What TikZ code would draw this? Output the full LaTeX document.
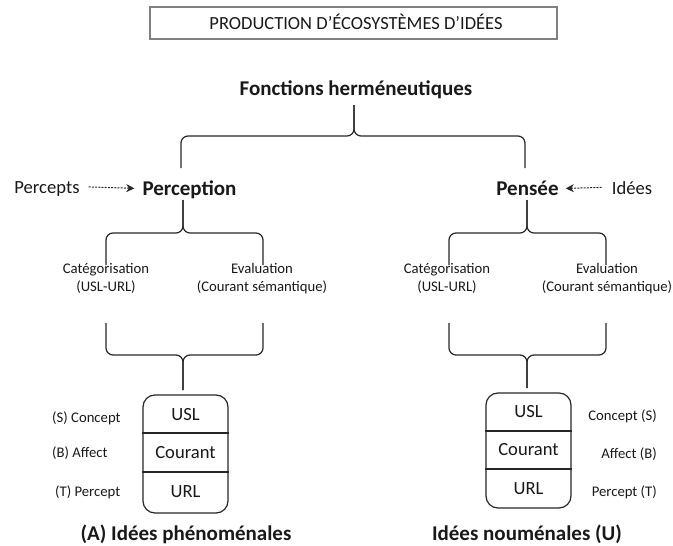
\documentclass[tikz,border=0pt]{standalone}
\usepackage{fontspec}
\setmainfont{Carlito}
\usetikzlibrary{arrows.meta,calc}

% a curly brace: tip (#1,#2), bar at height #3, arms at #4 and #5 ending at #6
\newcommand\curlybrace[6]{%
  \draw[bracestyle] (#4,#6) -- (#4,#3) -- (#1,#3) -- (#1,#2);
  \draw[bracestyle] (#5,#6) -- (#5,#3) -- (#1,#3) -- (#1,#2);
}

\tikzset{
  bracestyle/.style={line width=1.2pt, rounded corners=7pt, black!85},
  txt/.style={inner sep=0pt, anchor=base, text=black!90},
  small/.style={txt, font=\fontsize{14.7}{18}\selectfont},
  medium/.style={txt, font=\fontsize{18.6}{22}\selectfont},
  heading/.style={txt, font=\fontsize{21}{25}\selectfont\bfseries},
  titlebox/.style={draw=black!50, line width=1.8pt},
  cellbox/.style={draw=black!85, line width=1.2pt, rounded corners=12pt,
    minimum width=85pt, inner sep=0pt},
  divider/.style={draw=black!85, line width=1.2pt},
  dasharrow/.style={line width=1pt, dash pattern=on 2pt off 1.2pt,
    -{Stealth[length=8pt,width=8pt,inset=2.5pt]}, black!85},
}

\begin{document}
\begin{tikzpicture}[x={(1pt,0)}, y={(0,-1pt)}]
\useasboundingbox (0,0) rectangle (673,546);

% title
\node[titlebox, minimum width=407pt, minimum height=32pt] (titlebox) at (353.5,23) {};
\node[medium, font=\fontsize{18.5}{22}\selectfont] (title) at (356,29.3) {PRODUCTION D’ÉCOSYSTÈMES D’IDÉES};

% top level
\node[heading] (fonc) at (356,95) {Fonctions herméneutiques};
\curlybrace{354}{105}{136}{181}{525}{168}

% left branch
\node[heading] (perc) at (189.5,195) {Perception};
\node[medium] (percepts) at (47,193.5) {Percepts};
\draw[dasharrow, shorten <=9pt, shorten >=8pt] ([yshift=4.5pt]percepts.mid east) -- ([yshift=4pt]perc.mid west);

\curlybrace{183}{200}{233}{106}{263}{265}
\node[small, align=center] (catA) at (106,291.7) {Catégorisation\\(USL-URL)};
\node[small, align=center] (evalA) at (262,291.7) {Evaluation\\(Courant sémantique)};
\curlybrace{183}{390}{355}{106}{263}{323}

\node[cellbox, minimum height=118pt] (boxA) at (185.5,454) {};
\path[divider] (boxA.west |- 0,433) -- (boxA.east |- 0,433);
\path[divider] (boxA.west |- 0,472) -- (boxA.east |- 0,472);
\node[medium] (uslA) at (185.5,420.7) {USL};
\node[medium] (courA) at (185.5,458) {Courant};
\node[medium] (urlA) at (185.5,497.7) {URL};
\node[small, anchor=base west] (sA) at (52,422) {(S) Concept};
\node[small, anchor=base west] (bA) at (52,457) {(B) Affect};
\node[small, anchor=base west] (tA) at (55,496.7) {(T) Percept};
\node[heading] (ideesA) at (186,540.7) {(A) Idées phénoménales};

% right branch
\node[heading] (pens) at (527.5,195) {Pensée};
\node[medium] (idees) at (632,194) {Idées};
\draw[dasharrow, shorten <=10pt, shorten >=7pt] ([yshift=4.5pt]idees.mid west) -- ([yshift=4pt]pens.mid east);

\curlybrace{527}{200}{233}{449}{606}{265}
\node[small, align=center] (catU) at (447,291.7) {Catégorisation\\(USL-URL)};
\node[small, align=center] (evalU) at (607,291.7) {Evaluation\\(Courant sémantique)};
\curlybrace{527}{388}{355}{449}{606}{323}

\node[cellbox, minimum height=115pt] (boxU) at (528.5,450.5) {};
\path[divider] (boxU.west |- 0,431) -- (boxU.east |- 0,431);
\path[divider] (boxU.west |- 0,469) -- (boxU.east |- 0,469);
\node[medium] (uslU) at (528.5,417) {USL};
\node[medium] (courU) at (528.5,455) {Courant};
\node[medium] (urlU) at (528.5,494) {URL};
\node[small, anchor=base east] (sU) at (657,420) {Concept (S)};
\node[small, anchor=base east] (bU) at (657,458) {Affect (B)};
\node[small, anchor=base east] (tU) at (657,496.7) {Percept (T)};
\node[heading] (ideesU) at (527,540.7) {Idées nouménales (U)};
\end{tikzpicture}
\end{document}
